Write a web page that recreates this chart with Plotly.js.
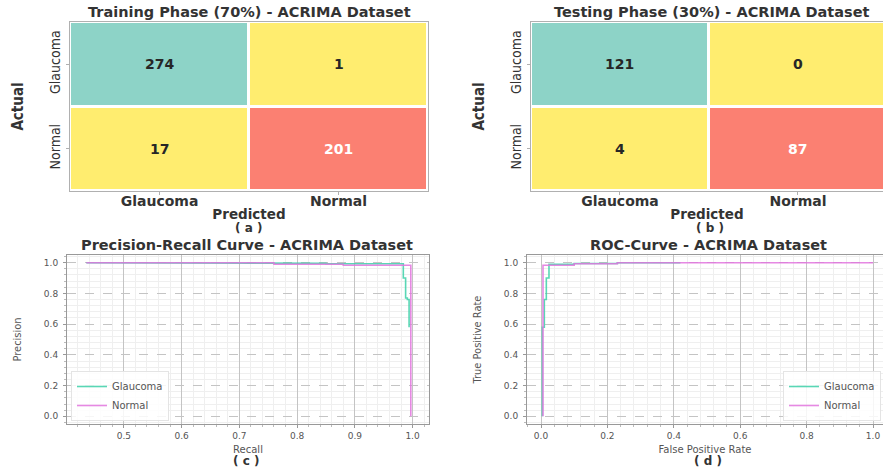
<!DOCTYPE html>
<html>
<head>
<meta charset="utf-8">
<script src="https://cdn.plot.ly/plotly-3.0.1.min.js"></script>
<style>
html,body{margin:0;padding:0;background:#fff;}
#chart{width:883px;height:470px;}
</style>
</head>
<body>
<div id="chart"></div>
<script>
// ---- data ----
const classes = ['Glaucoma', 'Normal'];
const trainCounts = [[274, 1], [17, 201]];
const testCounts = [[121, 0], [4, 87]];

const prGlaucomaRecall    = [0.435, 0.65, 0.65, 0.76, 0.76, 0.85, 0.85, 0.984, 0.984, 0.988, 0.988, 0.991, 0.991, 0.994, 0.994];
const prGlaucomaPrecision = [1.0, 1.0, 0.998, 0.998, 0.996, 0.996, 0.993, 0.993, 0.90, 0.90, 0.77, 0.77, 0.76, 0.76, 0.58];
const prNormalRecall      = [0.435, 0.76, 0.76, 0.88, 0.88, 0.997, 0.997];
const prNormalPrecision   = [1.0, 1.0, 0.99, 0.99, 0.983, 0.983, 0.0];

const rocGlaucomaFpr = [0.004, 0.004, 0.010, 0.010, 0.016, 0.016, 0.024, 0.024, 0.10, 0.10, 0.23, 0.23, 0.42];
const rocGlaucomaTpr = [0.0, 0.58, 0.58, 0.76, 0.76, 0.90, 0.90, 0.99, 0.99, 0.995, 0.995, 1.0, 1.0];
const rocNormalFpr   = [0.006, 0.006, 0.10, 0.10, 0.23, 0.23, 1.0];
const rocNormalTpr   = [0.0, 0.983, 0.983, 0.993, 0.993, 1.0, 1.0];

const subLabels = ['( a )', '( b )', '( c )', '( d )'];

// ---- styles ----
const TEAL = '#8DD3C7', YELLOW = '#FFED6F', SALMON = '#FB8072';
const cmScale = [[0, YELLOW], [0.4, YELLOW], [0.4, SALMON], [0.9, SALMON], [0.9, TEAL], [1, TEAL]];
const lineTeal = 'rgba(60,208,168,0.85)';
const linePink = 'rgba(226,116,222,0.85)';
const boldWide = 'DejaVu Sans, Verdana, sans-serif';
const narrow = 'Liberation Sans Narrow, DejaVu Sans Condensed, Arial Narrow, sans-serif';

function maxOf(m) { return Math.max.apply(null, m.flat()); }

function heat(counts, xa, ya) {
  return {
    type: 'heatmap', z: counts, x: classes, y: classes,
    xaxis: xa, yaxis: ya, colorscale: cmScale, zmin: 0, zmax: maxOf(counts),
    showscale: false, xgap: 3, ygap: 3, hoverinfo: 'z'
  };
}

const traces = [
  heat(trainCounts, 'x', 'y'),
  heat(testCounts, 'x2', 'y2'),
  {type: 'scatter', mode: 'lines', x: prGlaucomaRecall, y: prGlaucomaPrecision, xaxis: 'x3', yaxis: 'y3',
   name: 'Glaucoma', line: {color: lineTeal, width: 1.6}, legend: 'legend'},
  {type: 'scatter', mode: 'lines', x: prNormalRecall, y: prNormalPrecision, xaxis: 'x3', yaxis: 'y3',
   name: 'Normal', line: {color: linePink, width: 1.6}, legend: 'legend'},
  {type: 'scatter', mode: 'lines', x: rocGlaucomaFpr, y: rocGlaucomaTpr, xaxis: 'x4', yaxis: 'y4',
   name: 'Glaucoma', line: {color: lineTeal, width: 1.6}, legend: 'legend2'},
  {type: 'scatter', mode: 'lines', x: rocNormalFpr, y: rocNormalTpr, xaxis: 'x4', yaxis: 'y4',
   name: 'Normal', line: {color: linePink, width: 1.6}, legend: 'legend2'}
];

// count annotations
const annotations = [];
function cellText(counts, xa, ya) {
  const mx = maxOf(counts);
  counts.forEach((row, i) => row.forEach((v, j) => {
    const f = v / mx;
    annotations.push({
      xref: xa, yref: ya, x: classes[j], y: classes[i], text: '<b>' + String(v) + '</b>', showarrow: false,
      font: {family: boldWide, size: 14, color: (f > 0.4 && f < 0.9) ? '#ffffff' : '#262626'}
    });
  }));
}
cellText(trainCounts, 'x', 'y');
cellText(testCounts, 'x2', 'y2');

function titleAnn(text, x, y, size) {
  annotations.push({xref: 'paper', yref: 'paper', x: x, y: y, text: '<b>' + text + '</b>', showarrow: false,
    xanchor: 'center', yanchor: 'middle', font: {family: boldWide, size: size, color: '#333'}});
}
titleAnn('Training Phase (70%) - ACRIMA Dataset', 249 / 883, 1 - 12 / 470, 14.5);
titleAnn('Testing Phase (30%) - ACRIMA Dataset', 712 / 883, 1 - 12 / 470, 14.5);
titleAnn('Precision-Recall Curve - ACRIMA Dataset', 247 / 883, 1 - 245 / 470, 14.5);
titleAnn('ROC-Curve - ACRIMA Dataset', 708 / 883, 1 - 245 / 470, 14.5);

[[248, 228], [710, 228], [246, 461], [708, 461]].forEach((p, k) => {
  annotations.push({xref: 'paper', yref: 'paper', x: p[0] / 883, y: 1 - p[1] / 470, text: '<b>' + subLabels[k] + '</b>',
    showarrow: false, xanchor: 'center', yanchor: 'middle', font: {family: boldWide, size: 12, color: '#333'}});
});

const heatX = {
  type: 'category', showgrid: false, zeroline: false, showline: true, mirror: true, linecolor: '#b0b0b0', linewidth: 1,
  ticks: 'outside', ticklen: 3, tickcolor: '#b0b0b0', ticklabelstandoff: -6,
  tickfont: {family: boldWide, size: 14, color: '#333', weight: 'bold'},
  title: {text: '<b>Predicted</b>', font: {family: boldWide, size: 13.5, color: '#333'}, standoff: 1}
};
const heatY = {
  type: 'category', showgrid: false, zeroline: false, showline: true, mirror: true, linecolor: '#b0b0b0', linewidth: 1,
  range: [1.5, -0.5], ticks: 'outside', ticklen: 3, tickcolor: '#b0b0b0', tickangle: -90,
  tickfont: {family: narrow, size: 14, color: '#333'},
  title: {text: '<b>Actual</b>', font: {family: narrow, size: 15, color: '#333'}, standoff: 20}
};

function lineAxis(extra) {
  return Object.assign({
    showline: true, mirror: true, linecolor: '#999', linewidth: 1, zeroline: false,
    showgrid: true, gridcolor: '#c4c4c4', gridwidth: 1,
    ticks: 'outside', ticklen: 3, tickcolor: '#999',
    tickfont: {family: 'DejaVu Sans, sans-serif', size: 9, color: '#555'}
  }, extra);
}
const minorX = (d) => ({dtick: d, showgrid: true, gridcolor: '#efefef', griddash: 'solid', ticks: 'outside', ticklen: 2, tickcolor: '#bbb'});

const rx = {family: 'DejaVu Sans, sans-serif', size: 10, color: '#555'};
const ry = {family: narrow, size: 11, color: '#555'};
const legFont = {family: 'DejaVu Sans, sans-serif', size: 10, color: '#555'};

const layout = {
  width: 883, height: 470, autosize: false,
  margin: {l: 0, r: 0, t: 0, b: 0},
  paper_bgcolor: '#fff', plot_bgcolor: '#fff',
  showlegend: true,
  xaxis: Object.assign({}, heatX, {domain: [70 / 883, 428 / 883], anchor: 'y'}),
  yaxis: Object.assign({}, heatY, {domain: [1 - 191 / 470, 1 - 22 / 470], anchor: 'x'}),
  xaxis2: Object.assign({}, heatX, {domain: [531 / 883, 1], anchor: 'y2', range: [-0.5, 1.478]}),
  yaxis2: Object.assign({}, heatY, {domain: [1 - 191 / 470, 1 - 22 / 470], anchor: 'x2'}),
  xaxis3: lineAxis({domain: [67 / 883, 429 / 883], anchor: 'y3', range: [0.4015, 1.0285], tick0: 0, dtick: 0.1,
    tickformat: '.1f', minor: minorX(0.02),
    title: {text: 'Recall', font: rx, standoff: 6}}),
  yaxis3: lineAxis({domain: [1 - 424 / 470, 1 - 255 / 470], anchor: 'x3', range: [-0.05, 1.05], tick0: 0, dtick: 0.2,
    tickformat: '.1f', griddash: 'dash', minor: minorX(0.04), ticklabelstandoff: 3,
    title: {text: 'Precision', font: ry, standoff: 20}}),
  xaxis4: lineAxis({domain: [527 / 883, 1], anchor: 'y4', range: [-0.0422, 1.0301], tick0: 0, dtick: 0.2,
    tickformat: '.1f', minor: minorX(0.04),
    title: {text: 'False Positive Rate', font: rx, standoff: 6}}),
  yaxis4: lineAxis({domain: [1 - 424 / 470, 1 - 255 / 470], anchor: 'x4', range: [-0.05, 1.05], tick0: 0, dtick: 0.2,
    tickformat: '.1f', griddash: 'dash', minor: minorX(0.04), ticklabelstandoff: 3,
    title: {text: 'True Positive Rate', font: ry, standoff: 20}}),
  legend: {x: 71 / 883, y: 1 - 421 / 470, xanchor: 'left', yanchor: 'bottom', bgcolor: 'rgba(255,255,255,0.85)',
    bordercolor: '#e4e4e4', borderwidth: 1, font: legFont, tracegroupgap: 0},
  legend2: {x: 881 / 883, y: 1 - 421 / 470, xanchor: 'right', yanchor: 'bottom', bgcolor: 'rgba(255,255,255,0.85)',
    bordercolor: '#e4e4e4', borderwidth: 1, font: legFont, tracegroupgap: 0},
  annotations: annotations
};

Plotly.newPlot('chart', traces, layout, {displayModeBar: false, staticPlot: true});
</script>
</body>
</html>
